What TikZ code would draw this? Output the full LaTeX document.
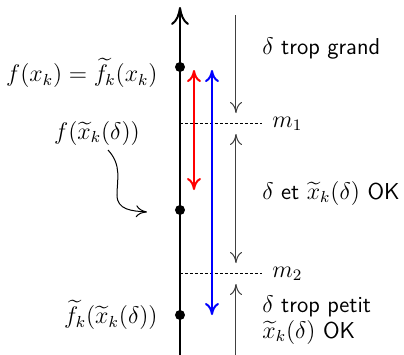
\documentclass[tikz,border=0pt]{standalone}
\usepackage{amsmath}
\usetikzlibrary{arrows.meta}
\begin{document}
\begin{tikzpicture}[x=0.5pt,y=-0.5pt,
  every node/.style={font=\fontsize{11.5}{12}\selectfont},
  axis/.style={line width=1pt},
  dot/.style={circle,fill=black,inner sep=0pt,minimum size=5pt},
  lbl/.style={inner sep=1pt,font=\fontsize{11.5}{12}\selectfont\sffamily}]
\useasboundingbox (0,0) rectangle (404,355);
% axis
\coordinate (ab) at (180,355);
\coordinate (at) at (180,7);
\draw[axis,-{To[length=9pt,width=9pt]}] (ab) -- (at);
\node[dot] (d1) at (180,67) {};
\node[dot] (d2) at (180,210) {};
\node[dot] (d3) at (180,315) {};
% dashed lines
\coordinate (m1s) at (180,123);
\coordinate (m1e) at (262,123);
\coordinate (m2s) at (180,273);
\coordinate (m2e) at (262,273);
\draw[line width=0.4pt,dash pattern=on 1.5pt off 1pt] (m1s) -- (m1e);
\draw[line width=0.4pt,dash pattern=on 1.5pt off 1pt] (m2s) -- (m2e);
\node[anchor=west,inner sep=1pt] (m1) at (270,124) {$m_1$};
\node[anchor=west,inner sep=1pt] (m2) at (270,274) {$m_2$};
% red and blue
\coordinate (r1) at (194,70);
\coordinate (r2) at (194,190);
\draw[red,line width=1pt,{To[length=6pt,width=7pt]}-{To[length=6pt,width=7pt]}] (r2) -- (r1);
\coordinate (b1) at (212,70);
\coordinate (b2) at (212,315);
\draw[blue,line width=1pt,{To[length=6pt,width=7pt]}-{To[length=6pt,width=7pt]}] (b2) -- (b1);
% thin arrows
\coordinate (t1a) at (236,15);
\coordinate (t1b) at (236,113);
\draw[line width=0.5pt,black!75,-{To[length=5.5pt,width=6pt]}] (t1a) -- (t1b);
\coordinate (t2a) at (236,134);
\coordinate (t2b) at (236,263);
\draw[line width=0.5pt,black!75,{To[length=5.5pt,width=6pt]}-{To[length=5.5pt,width=6pt]}] (t2a) -- (t2b);
\coordinate (t3a) at (236,355);
\coordinate (t3b) at (236,284);
\draw[line width=0.5pt,black!75,-{To[length=5.5pt,width=6pt]}] (t3a) -- (t3b);
% right labels
\node[lbl,anchor=west] (lg) at (260,49) {$\delta$ trop grand};
\node[lbl,anchor=west] (lo) at (260,193) {$\delta$ et $\widetilde{x}_k(\delta)$ OK};
\node[lbl,anchor=west,align=left,font=\fontsize{11.5}{13}\selectfont\sffamily] (lp) at (260,320) {$\delta$ trop petit\\$\widetilde{x}_k(\delta)$ OK};
% left labels
\node[anchor=east,inner sep=1pt] (l1) at (160,73) {$f(x_k)=\widetilde{f}_k(x_k)$};
\node[inner sep=1pt] (l2) at (97,133) {$f(\widetilde{x}_k(\delta))$};
\node[anchor=east,inner sep=1pt] (l3) at (160,315) {$\widetilde{f}_k(\widetilde{x}_k(\delta))$};
% curly arrow
\coordinate (cs) at (108,150);
\coordinate (ce) at (147,212);
\draw[line width=0.5pt,-{To[length=5.5pt,width=6pt]}] (cs) .. controls (122,165) and (117,180) .. (117,195) .. controls (117,210) and (132,211) .. (ce);
\end{tikzpicture}
\end{document}
